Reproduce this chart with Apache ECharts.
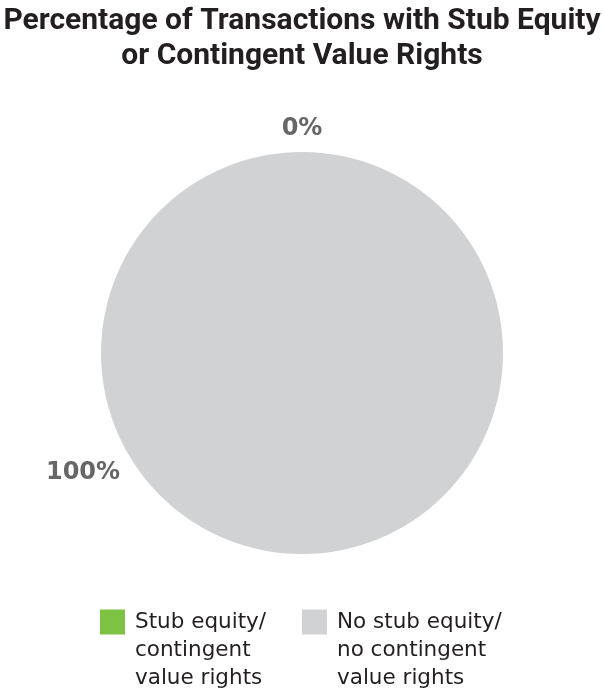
<!DOCTYPE html>
<html><head><meta charset="utf-8">
<script src="https://cdn.jsdelivr.net/npm/echarts@6/dist/echarts.min.js"></script>
<style>html,body{margin:0;padding:0;background:#fff}#c{width:604px;height:694px}</style>
</head><body><div id="c"></div>
<script>
var categories = ['Stub equity/\ncontingent\nvalue rights', 'No stub equity/\nno contingent\nvalue rights'];
var values = [0, 100];
var colors = ['#7dc242', '#d1d2d4'];
var labelTexts = ['0%', '100%'];

var chart = echarts.init(document.getElementById('c'));
chart.setOption({
  animation: false,
  title: {
    text: 'Percentage of Transactions with Stub Equity\nor Contingent Value Rights',
    left: 'center', top: -1,
    textStyle: { fontFamily: 'Roboto', fontWeight: 'bold', fontSize: 30, lineHeight: 35, color: '#231f20' }
  },
  legend: {
    left: 95, top: 547,
    itemWidth: 25, itemHeight: 25, itemGap: 27,
    icon: 'rect',
    selectedMode: false,
    formatter: function (name) { return '\n\n' + name; },
    textStyle: { fontFamily: 'DejaVu Sans', fontSize: 21.5, lineHeight: 28, color: '#231f20', padding: [0, 0, 0, 5], width: 140 },
    data: categories
  },
  series: [{
    type: 'pie',
    center: [302, 353],
    radius: [0, 201],
    startAngle: 90,
    clockwise: true,
    minAngle: 0,
    stillShowZeroSum: true,
    silent: true,
    label: {
      show: true, position: 'outside',
      formatter: function (p) { return labelTexts[p.dataIndex]; },
      fontFamily: 'DejaVu Sans', fontWeight: 'bold', fontSize: 24, color: '#666666'
    },
    labelLine: { show: false },
    labelLayout: function (p) {
      if (p.dataIndex === 0) return { x: 302, y: 129, align: 'center', verticalAlign: 'middle' };
      return { x: 83, y: 473, align: 'center', verticalAlign: 'middle' };
    },
    data: categories.map(function (c, i) {
      return { name: c, value: values[i], itemStyle: { color: colors[i] } };
    })
  }]
});
</script></body></html>
